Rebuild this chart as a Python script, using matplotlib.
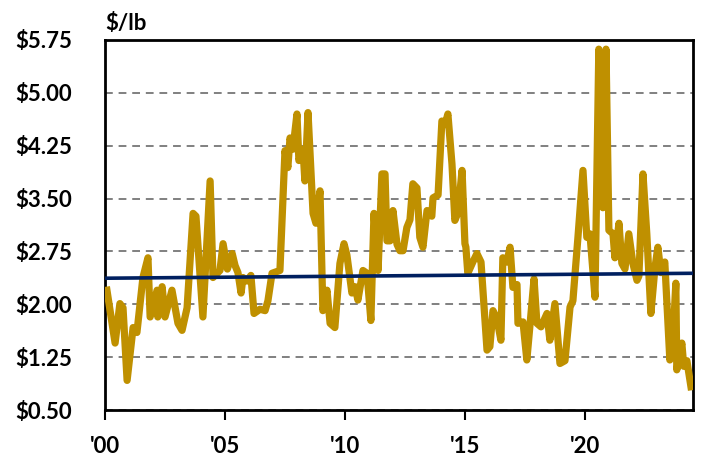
import numpy as np
import matplotlib.pyplot as plt

# price readings (decimal year, $/lb)
years = [2000.08, 2000.42, 2000.62, 2000.75, 2000.92, 2001.17, 2001.33, 2001.58, 2001.79, 2001.88,
         2002.17, 2002.2, 2002.38, 2002.5, 2002.79, 2003.04, 2003.21, 2003.42, 2003.67, 2003.79,
         2004.08, 2004.38, 2004.5, 2004.79, 2004.92, 2005.1, 2005.3, 2005.42, 2005.54, 2005.67,
         2005.75, 2005.92, 2006.08, 2006.21, 2006.46, 2006.67, 2006.79, 2006.96, 2007.29, 2007.5,
         2007.62, 2007.71, 2007.83, 2008.0, 2008.08, 2008.25, 2008.33, 2008.46, 2008.58, 2008.67,
         2008.79, 2008.96, 2009.08, 2009.25, 2009.38, 2009.58, 2009.79, 2009.96, 2010.08, 2010.29,
         2010.42, 2010.54, 2010.75, 2010.92, 2011.08, 2011.21, 2011.38, 2011.54, 2011.67, 2011.75,
         2011.88, 2012.0, 2012.17, 2012.29, 2012.42, 2012.58, 2012.71, 2012.83, 2013.0, 2013.12,
         2013.25, 2013.42, 2013.62, 2013.67, 2013.88, 2014.04, 2014.17, 2014.29, 2014.46, 2014.58,
         2014.71, 2014.88, 2015.0, 2015.04, 2015.12, 2015.33, 2015.5, 2015.67, 2015.92, 2016.04,
         2016.17, 2016.33, 2016.5, 2016.58, 2016.75, 2016.88, 2017.0, 2017.17, 2017.21, 2017.42,
         2017.58, 2017.71, 2017.88, 2018.0, 2018.17, 2018.42, 2018.54, 2018.75, 2018.96, 2019.17,
         2019.38, 2019.5, 2019.71, 2019.92, 2020.08, 2020.21, 2020.42, 2020.58, 2020.75, 2020.88,
         2021.0, 2021.17, 2021.25, 2021.42, 2021.54, 2021.67, 2021.83, 2022.0, 2022.17, 2022.25,
         2022.42, 2022.58, 2022.75, 2022.92, 2023.04, 2023.17, 2023.33, 2023.54, 2023.67, 2023.79,
         2023.83, 2024.04, 2024.12, 2024.25, 2024.42]
prices = [2.20, 1.45, 2.01, 1.95, 0.92, 1.67, 1.60, 2.38, 2.66, 1.82,
          2.20, 1.82, 2.25, 1.82, 2.20, 1.73, 1.63, 1.95, 3.29, 3.25,
          1.82, 3.75, 2.38, 2.48, 2.86, 2.50, 2.72, 2.55, 2.45, 2.16,
          2.38, 2.33, 2.41, 1.87, 1.93, 1.91, 2.05, 2.44, 2.48, 4.18,
          3.94, 4.36, 4.20, 4.70, 4.04, 4.20, 3.75, 4.72, 3.90, 3.29,
          3.15, 3.61, 1.91, 2.20, 1.73, 1.67, 2.58, 2.86, 2.70, 2.16,
          2.25, 2.06, 2.48, 2.44, 1.77, 3.29, 2.48, 3.85, 3.85, 2.90,
          2.90, 3.33, 2.85, 2.76, 2.76, 3.09, 3.20, 3.71, 3.65, 2.95,
          2.81, 3.33, 3.25, 3.51, 3.55, 4.60, 4.55, 4.70, 3.99, 3.19,
          3.30, 3.90, 2.86, 2.81, 2.44, 2.60, 2.72, 2.60, 1.35, 1.40,
          1.91, 1.80, 1.49, 2.66, 2.60, 2.81, 2.24, 2.28, 1.73, 1.75,
          1.21, 1.70, 2.36, 1.73, 1.68, 1.87, 1.49, 2.01, 1.16, 1.20,
          1.96, 2.05, 2.95, 3.90, 2.95, 3.00, 2.10, 5.62, 3.37, 5.62,
          3.05, 3.00, 2.66, 3.15, 2.58, 2.50, 3.00, 2.58, 2.34, 2.40,
          3.85, 3.00, 1.87, 2.52, 2.81, 2.45, 2.60, 1.21, 1.50, 2.30,
          1.07, 1.45, 1.12, 1.20, 0.83]

# trend line as drawn in the source (start / end of the x range)
trend_years = [2000, 2024.5]
trend_values = [2.37, 2.44]

yticks = [0.50, 1.25, 2.00, 2.75, 3.50, 4.25, 5.00, 5.75]
xticks = [2000, 2005, 2010, 2015, 2020]
xlabels = ["'00", "'05", "'10", "'15", "'20"]

plt.rcParams['font.family'] = ['Lato', 'DejaVu Sans']
plt.rcParams['font.weight'] = 'bold'

fig = plt.figure(figsize=(7.02, 4.57), dpi=100)
ax = fig.add_axes([0.1496, 0.1028, 0.8374, 0.8097])

ax.plot(years, prices, color='#BF9000', lw=5.2, solid_joinstyle='round', zorder=3)
ax.plot(trend_years, trend_values, color='#002060', lw=2.6, zorder=4)

ax.set_xlim(2000, 2024.5)
ax.set_ylim(0.5, 5.75)
ax.set_yticks(yticks)
ax.set_yticklabels(['${:.2f}'.format(v) for v in yticks])
ax.set_xticks(xticks)
ax.set_xticklabels(xlabels)
ax.tick_params(axis='y', length=0, pad=24, labelsize=16)
ax.tick_params(axis='x', length=7, width=1.5, direction='out', pad=12, labelsize=16)
for lab in ax.get_yticklabels() + ax.get_xticklabels():
    lab.set_fontweight('bold')
ax.grid(axis='y', color='#808080', ls=(0, (4, 3)), lw=1.4)
ax.set_axisbelow(True)
for s in ax.spines.values():
    s.set_linewidth(2)
    s.set_color('black')

ax.text(0.0, 1.015, '$/lb', transform=ax.transAxes, fontsize=16,
        fontweight='bold', ha='left', va='bottom')

fig.savefig('out.png', dpi=100)
